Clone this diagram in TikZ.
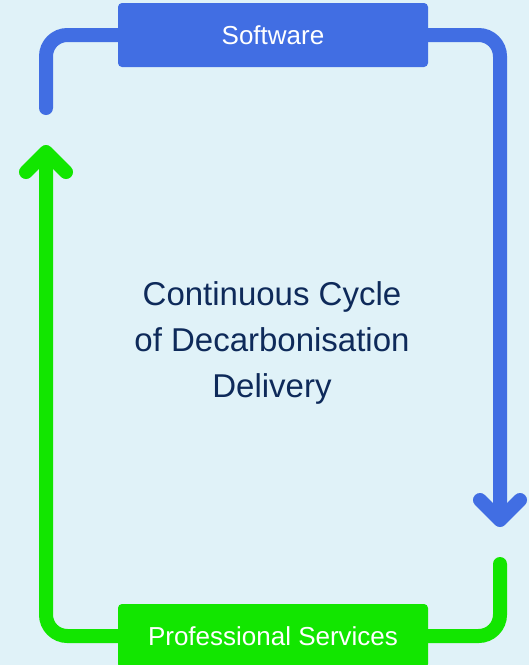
\documentclass[tikz,border=0pt]{standalone}
\usepackage{fontspec}
\setmainfont{Liberation Sans}
\usetikzlibrary{arrows.meta}

\definecolor{bgblue}{HTML}{E0F2F8}
\definecolor{swblue}{HTML}{416EE3}
\definecolor{psgreen}{HTML}{12E600}
\definecolor{titlenavy}{HTML}{0E2A5A}

\begin{document}
\begin{tikzpicture}[
		x=0.75pt,
		y=-0.75pt,
		stage/.style={rounded corners=3pt, minimum width=232.5pt, minimum height=48pt,
				text=white, font=\fontsize{19.5}{23}\selectfont, inner sep=0pt},
		title/.style={text=titlenavy, align=center, font=\fontsize{24.75}{34.3}\selectfont},
		loop/.style={line width=10.5pt, line cap=round, rounded corners=16pt},
		barb/.style={-{Straight Barb[round, length=15pt, width=30pt]}}
	]

	% Page and background
	\useasboundingbox (0,0) rectangle (529,665);
	\fill[bgblue] (0,0) rectangle (529,665);

	% Stage boxes
	\node[stage, fill=swblue] (soft) at (273,35) {Software};
	\node[stage, fill=psgreen] (prof) at (273,636) {Professional Services};

	% Centre caption
	\node[title] (cycle) at (272,343) {Continuous Cycle\\of Decarbonisation\\Delivery};

	% Free ends of the loop
	\coordinate (swend) at (46,108);
	\coordinate (swtip) at (500,527);
	\coordinate (psend) at (500,564);
	\coordinate (pstip) at (46,145);

	% Software half of the cycle
	\draw[loop, swblue] (soft.west) -| (swend);
	\draw[loop, swblue, barb] (soft.east) -| (swtip);

	% Professional services half of the cycle
	\draw[loop, psgreen] (prof.east) -| (psend);
	\draw[loop, psgreen, barb] (prof.west) -| (pstip);

\end{tikzpicture}
\end{document}
